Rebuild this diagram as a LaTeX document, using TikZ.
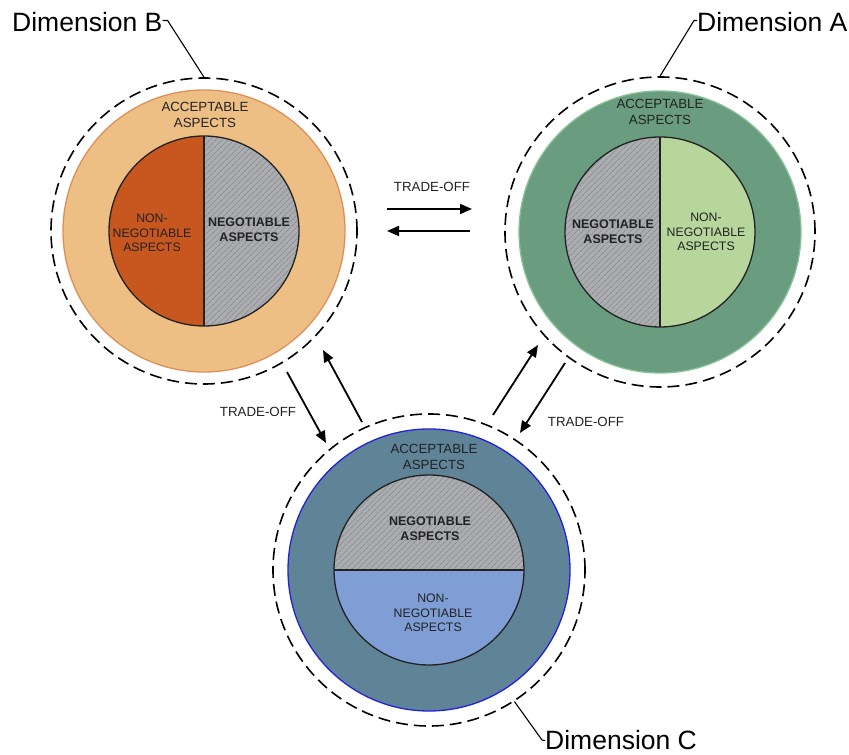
\documentclass[tikz,border=0pt]{standalone}
\usepackage{fontspec}
\setmainfont{Liberation Sans}
\usetikzlibrary{arrows.meta,patterns.meta}
\definecolor{txt}{HTML}{222222}
\definecolor{ringB}{HTML}{EDBF84}
\definecolor{edgeB}{HTML}{DE8F5A}
\definecolor{nonB}{HTML}{C7561F}
\definecolor{ringA}{HTML}{6A9D80}
\definecolor{edgeA}{HTML}{86C196}
\definecolor{nonA}{HTML}{B6D69C}
\definecolor{ringC}{HTML}{5F8498}
\definecolor{edgeC}{HTML}{2222DD}
\definecolor{nonC}{HTML}{7F9ED6}
\definecolor{negfill}{HTML}{ABACB0}
\definecolor{hatch}{HTML}{8C8D91}
\begin{document}
\begin{tikzpicture}[x=1pt,y=1pt,
  dashcirc/.style={circle,draw=black,line width=1.6pt,dash pattern=on 12pt off 6pt,inner sep=0pt},
  ringcirc/.style={circle,inner sep=0pt,line width=1.3pt},
  dimlabel/.style={inner sep=0pt,font=\fontsize{26.5}{30}\selectfont,text=black},
  leader/.style={draw=black,line width=1.1pt},
  small/.style={align=center,inner sep=0pt,text=txt,font=\fontsize{13.3}{16}\selectfont},
  smallb/.style={align=center,inner sep=0pt,text=txt,font=\bfseries\fontsize{12.5}{15}\selectfont},
  smalln/.style={align=center,inner sep=0pt,text=txt,font=\fontsize{12.3}{14.5}\selectfont},
  trade/.style={line width=1.8pt,-{Triangle[length=12pt,width=10pt]}},
  inner/.style={draw=txt,line width=1.3pt},
  hatched/.style={pattern={Lines[angle=45,distance=4pt,line width=0.7pt]},pattern color=hatch}
]
\useasboundingbox (0,0) rectangle (849,755);

\coordinate (Bc) at (204,524);
\coordinate (Ac) at (660,523);
\coordinate (Cc) at (429,185);

% ---------- Dimension B ----------
\node[dashcirc,minimum size=306pt] (Bdash) at (Bc) {};
\node[ringcirc,minimum size=282pt,fill=ringB,draw=edgeB] (Bring) at (Bc) {};
\fill[nonB] (Bc) ++(0,95) arc[start angle=90,end angle=270,radius=95] -- cycle;
\fill[negfill] (Bc) ++(0,-95) arc[start angle=-90,end angle=90,radius=95] -- cycle;
\fill[hatched] (Bc) ++(0,-95) arc[start angle=-90,end angle=90,radius=95] -- cycle;
\draw[inner] (Bc) circle[radius=95];
\draw[inner] (Bc) ++(0,95) -- ++(0,-190);
\node[small] (BAcc) at (205,640) {ACCEPTABLE\\ASPECTS};
\node[smalln] (BNon) at (152,522) {NON-\\NEGOTIABLE\\ASPECTS};
\node[smallb] (BNeg) at (249,525) {NEGOTIABLE\\ASPECTS};

% ---------- Dimension A ----------
\node[dashcirc,minimum size=310pt] (Adash) at (Ac) {};
\node[ringcirc,minimum size=282pt,fill=ringA,draw=edgeA] (Aring) at (Ac) {};
\fill[negfill] (Ac) ++(0,95) arc[start angle=90,end angle=270,radius=95] -- cycle;
\fill[hatched] (Ac) ++(0,95) arc[start angle=90,end angle=270,radius=95] -- cycle;
\fill[nonA] (Ac) ++(0,-95) arc[start angle=-90,end angle=90,radius=95] -- cycle;
\draw[inner] (Ac) circle[radius=95];
\draw[inner] (Ac) ++(0,95) -- ++(0,-190);
\node[small] (AAcc) at (660,643) {ACCEPTABLE\\ASPECTS};
\node[smallb] (ANeg) at (613,523) {NEGOTIABLE\\ASPECTS};
\node[smalln] (ANon) at (706,523) {NON-\\NEGOTIABLE\\ASPECTS};

% ---------- Dimension C ----------
\node[dashcirc,minimum size=312pt] (Cdash) at (Cc) {};
\node[ringcirc,minimum size=282pt,fill=ringC,draw=edgeC] (Cring) at (Cc) {};
\fill[negfill] (Cc) ++(95,0) arc[start angle=0,end angle=180,radius=95] -- cycle;
\fill[hatched] (Cc) ++(95,0) arc[start angle=0,end angle=180,radius=95] -- cycle;
\fill[nonC] (Cc) ++(-95,0) arc[start angle=180,end angle=360,radius=95] -- cycle;
\draw[inner] (Cc) circle[radius=95];
\draw[inner] (Cc) ++(-95,0) -- ++(190,0);
\node[small] (CAcc) at (434,298) {ACCEPTABLE\\ASPECTS};
\node[smallb] (CNeg) at (430,226) {NEGOTIABLE\\ASPECTS};
\node[smalln] (CNon) at (433,142) {NON-\\NEGOTIABLE\\ASPECTS};

% ---------- Dimension labels ----------
\node[dimlabel,anchor=base west] (DimB) at (12,723) {Dimension B};
\draw[leader] ([yshift=2pt]DimB.east) -- ++(5,0) -- (Bdash.north);
\node[dimlabel,anchor=base west] (DimA) at (697,723) {Dimension A};
\draw[leader] ([yshift=2pt]DimA.west) -- ++(-3,0) -- (Adash.north);
\node[dimlabel,anchor=base west] (DimC) at (545,5) {Dimension C};
\coordinate (Ckink) at (542,15);
\draw[leader] (Cdash.-57) -- (Ckink) -- (DimC.west);

% ---------- Trade-off arrows ----------
\coordinate (T1s) at (387,546); \coordinate (T1e) at (472,546);
\coordinate (T2s) at (470,524); \coordinate (T2e) at (387,524);
\coordinate (L1s) at (287,383); \coordinate (L1e) at (326,312);
\coordinate (L2s) at (362,333); \coordinate (L2e) at (323,405);
\coordinate (R1s) at (493,340); \coordinate (R1e) at (538,410);
\coordinate (R2s) at (565,392); \coordinate (R2e) at (520,322);
\draw[trade] (T1s) -- (T1e);
\draw[trade] (T2s) -- (T2e);
\draw[trade] (L1s) -- (L1e);
\draw[trade] (L2s) -- (L2e);
\draw[trade] (R1s) -- (R1e);
\draw[trade] (R2s) -- (R2e);
\node[small] (TT) at (432,568) {TRADE-OFF};
\node[small] (TL) at (258,343) {TRADE-OFF};
\node[small] (TR) at (586,333) {TRADE-OFF};
\end{tikzpicture}
\end{document}
